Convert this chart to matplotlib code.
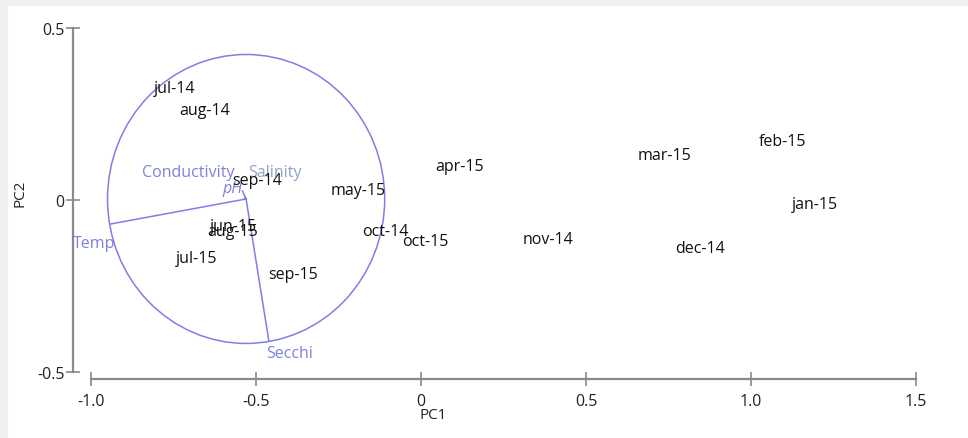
import numpy as np
import matplotlib
matplotlib.use("Agg")
import matplotlib.pyplot as plt
from matplotlib.patches import Circle, Rectangle

# ── sample scores (PC1, PC2) ──────────────────
months = ["jul-14", "aug-14", "sep-14", "oct-14", "nov-14", "dec-14",
          "jan-15", "feb-15", "mar-15", "apr-15", "may-15", "jun-15",
          "jul-15", "aug-15", "sep-15", "oct-15"]
pc1 = [-0.748, -0.655, -0.497, -0.109, 0.385, 0.845,
       1.194, 1.097, 0.739, 0.118, -0.191, -0.567,
       -0.679, -0.570, -0.388, 0.012]
pc2 = [0.326, 0.262, 0.058, -0.090, -0.113, -0.140,
       -0.012, 0.172, 0.131, 0.099, 0.029, -0.076,
       -0.169, -0.090, -0.215, -0.119]

# ── variable vectors (correlation circle) ─────
circle_center = (-0.530, 0.003)
circle_radius = 0.42
variables = ["Temp", "Secchi", "pH", "Conductivity", "Salinity"]
var_x = [-0.942, -0.461, -0.541, -0.534, -0.532]
var_y = [-0.070, -0.410, 0.026, 0.006, 0.006]
lab_x = [-1.0545, -0.397, -0.573, -0.845, -0.442]
lab_y = [-0.125, -0.445, 0.035, 0.081, 0.081]
lab_ha = ["left", "center", "center", "left", "center"]

xticks = [-1.0, -0.5, 0, 0.5, 1.0, 1.5]
xtick_labels = ["-1.0", "-0.5", "0", "0.5", "1.0", "1.5"]
yticks = [-0.5, 0, 0.5]
ytick_labels = ["-0.5", "0", "0.5"]

C_VEC = "#7f7fe6"
C_LAB = "#8080dc"
C_SAL = "#90a2c8"
C_AXIS = "#8a8a8a"
FONT = "Open Sans"
FS = 11.5

W, H = 968, 439
fig = plt.figure(figsize=(W / 100, H / 100), dpi=100, facecolor="white")

# light grey frame along top and left edges
fig.patches.append(Rectangle((0, 1 - 6 / H), 1, 6 / H, transform=fig.transFigure,
                             color="#eef0f2", zorder=0))
fig.patches.append(Rectangle((0, 0), 7 / W, 1, transform=fig.transFigure,
                             color="#eef0f2", zorder=0))

# pixel mapping: x_px = 421 + 330*x ; y_px(top) = 201 - 344*y
x_lo, x_hi = -1.0545, 1.56
y_lo, y_hi = -0.520, 0.55
left = (421 + 330 * x_lo) / W
right = (421 + 330 * x_hi) / W
bottom = (H - (201 - 344 * y_lo)) / H
top = (H - (201 - 344 * y_hi)) / H
ax = fig.add_axes([left, bottom, right - left, top - bottom])
ax.set_facecolor("none")
ax.set_xlim(x_lo, x_hi)
ax.set_ylim(y_lo, y_hi)

for s in ["top", "right"]:
    ax.spines[s].set_visible(False)
for s in ["left", "bottom"]:
    ax.spines[s].set_color(C_AXIS)
    ax.spines[s].set_linewidth(1.6)
ax.spines["left"].set_bounds(-0.5, 0.5)
ax.spines["bottom"].set_bounds(-1.0, 1.5)

ax.set_xticks(xticks)
ax.set_xticklabels(xtick_labels)
ax.set_yticks(yticks)
ax.set_yticklabels(ytick_labels)
ax.tick_params(direction="inout", length=10, width=1.2, color=C_AXIS,
               labelsize=FS, labelcolor="#222222")
ax.tick_params(axis="x", pad=5)
ax.tick_params(axis="y", pad=1)
for lab in ax.get_xticklabels() + ax.get_yticklabels():
    lab.set_family(FONT)

# correlation circle and vectors
ax.add_patch(Circle(circle_center, circle_radius, fill=False, edgecolor=C_VEC,
                    linewidth=1.1, zorder=2))
cx, cy = circle_center
for name, vx, vy, tx, ty, ha in zip(variables, var_x, var_y, lab_x, lab_y, lab_ha):
    ax.plot([cx, vx], [cy, vy], color=C_VEC, linewidth=1.1, zorder=2)
    col = C_SAL if name == "Salinity" else C_LAB
    style = "italic" if name == "pH" else "normal"
    ax.text(tx, ty, name, color=col, fontsize=FS, family=FONT, style=style,
            ha=ha, va="center", zorder=3)

# sample labels
for m, x, y in zip(months, pc1, pc2):
    ax.text(x, y, m, fontsize=FS, family=FONT, color="#111111",
            ha="center", va="center", zorder=4)

fig.text(433 / W, 1 - 416 / H, "PC1", fontsize=11, family=FONT,
         ha="center", va="center", color="#222222")
fig.text(20 / W, 1 - 193 / H, "PC2", fontsize=11, family=FONT, rotation=90,
         ha="center", va="center", color="#222222")

fig.savefig("out.png", dpi=100, facecolor="white")
